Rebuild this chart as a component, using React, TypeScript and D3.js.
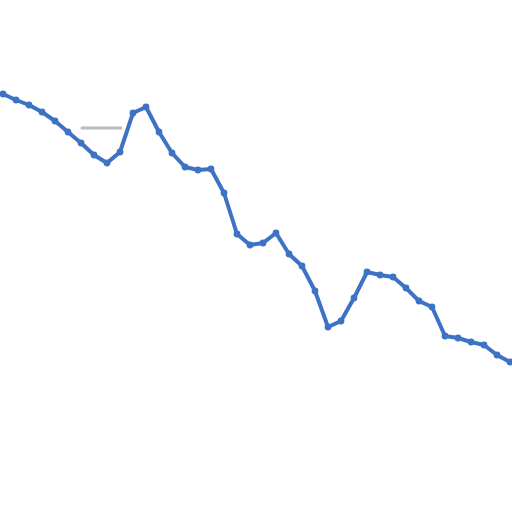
import * as d3 from "d3";

const width = 512;
const height = 512;

// one value per step (higher = further up)
const values = [
    418, 412, 407, 400, 391, 380, 369, 357, 349, 360,
    399, 405, 380, 359, 345, 342, 343, 319, 278, 267,
    269, 279, 258, 246, 221, 185, 191, 214, 240, 237,
    235, 224, 211, 205, 176, 174, 170, 167, 157, 150,
];
const steps = values.map((_, i) => i);

// faint grey dash seen on the left of the plot
const markStart = 82;
const markEnd = 121;
const markValue = 384;

const lineColor = "#3d72c4";

const App = () => {
    const x = d3.scaleLinear().domain([0, steps.length - 1]).range([3, 510]);
    const y = d3.scaleLinear().domain([0, 512]).range([height, 0]);

    const points = steps.map(i => ({ i, v: values[i] }));
    const line = d3.line<{ i: number, v: number }>().x(d => x(d.i)).y(d => y(d.v));

    return (
        <svg width={width} height={height} style={{ position: 'absolute', left: 0, top: 0, background: '#fff' }}>
            <defs>
                <filter id="soft" filterUnits="userSpaceOnUse" x="-20" y="-20" width="552" height="552">
                    <feGaussianBlur stdDeviation="0.7" />
                </filter>
            </defs>
            <line
                x1={markStart}
                x2={markEnd}
                y1={y(markValue)}
                y2={y(markValue)}
                stroke="#bcbcbc"
                strokeWidth={3}
                strokeLinecap="round"
                filter="url(#soft)"
            />
            <g filter="url(#soft)">
                <path d={line(points) ?? ''} fill="none" stroke={lineColor} strokeWidth={4} strokeLinejoin="round" />
                { points.map(d => (
                    <circle key={d.i} cx={x(d.i)} cy={y(d.v)} r={3.4} fill={lineColor} />
                )) }
            </g>
        </svg>
    );
};

export default App;
